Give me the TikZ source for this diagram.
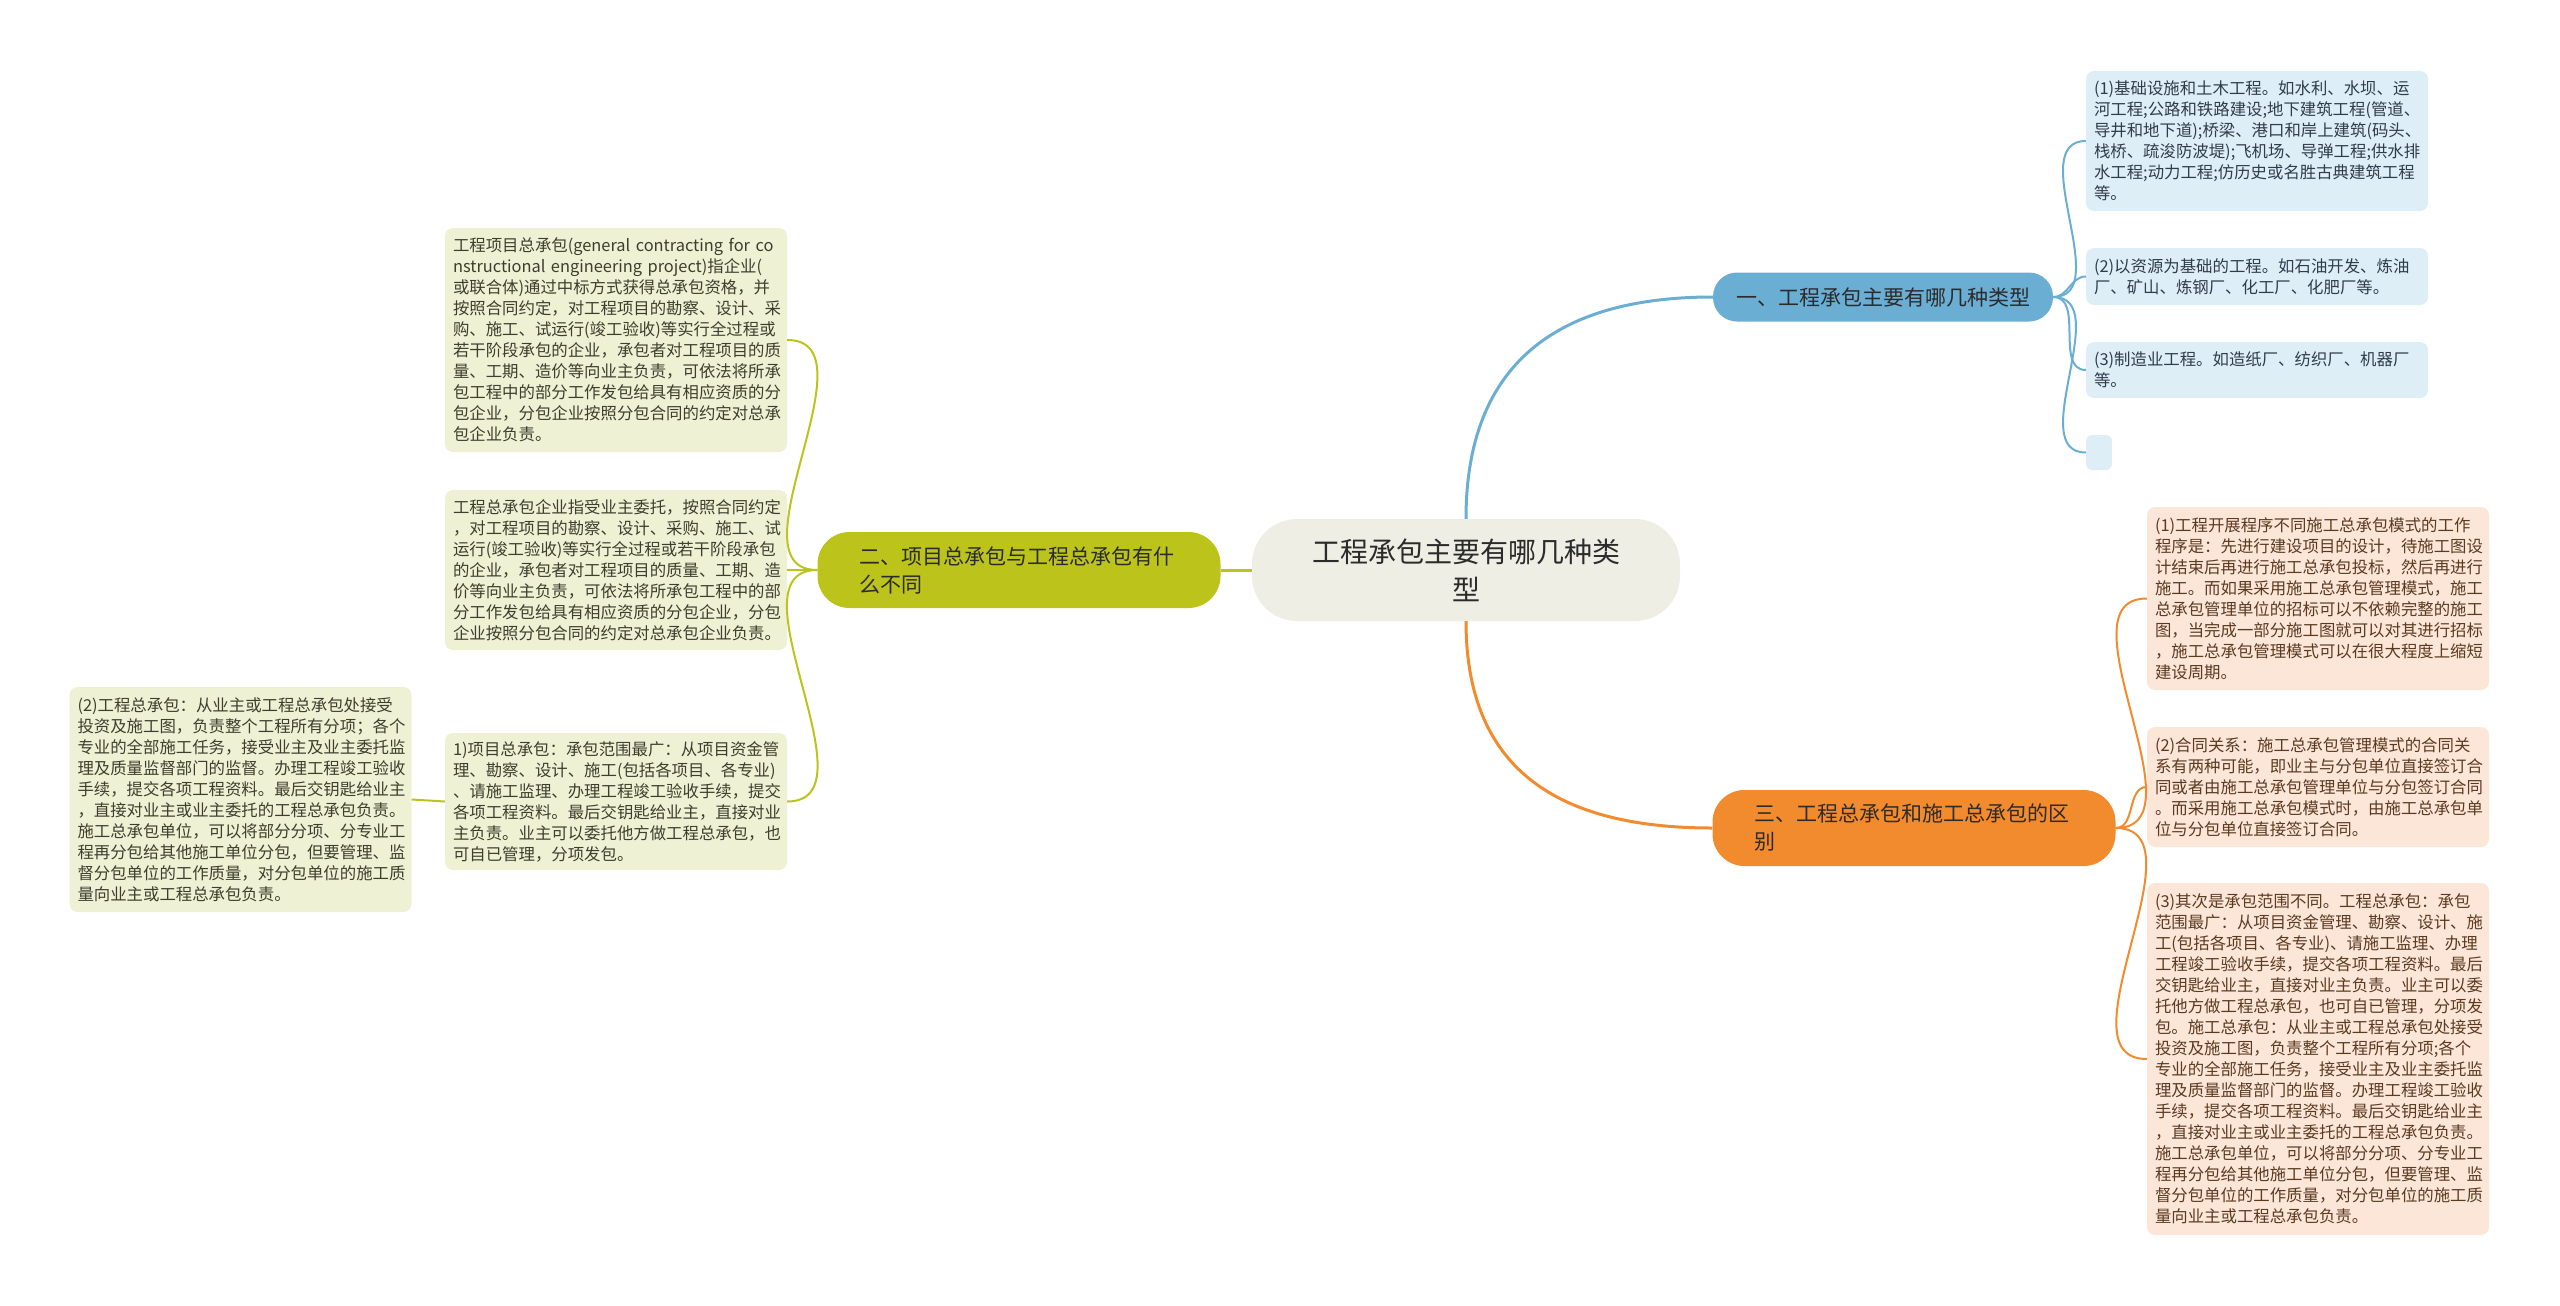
\documentclass[tikz,border=0pt]{standalone}
\usepackage{fontspec}
\setmainfont{Noto Sans CJK SC}

\definecolor{rootfill}{HTML}{EEEEE5}
\definecolor{bluemain}{HTML}{6BAED3}
\definecolor{blueleaf}{HTML}{DEEEF7}
\definecolor{bluetext}{HTML}{2F3D4A}
\definecolor{olivemain}{HTML}{BCC41C}
\definecolor{oliveleaf}{HTML}{EFF1D4}
\definecolor{olivetext}{HTML}{3E3E2E}
\definecolor{orangemain}{HTML}{F28B2E}
\definecolor{orangeleaf}{HTML}{FCE6D8}
\definecolor{orangetext}{HTML}{5A3B22}
\definecolor{darktext}{HTML}{2B2B2B}

\begin{document}
\begin{tikzpicture}[x=1pt, y=-1pt,
    main/.style = {fill=rootfill, rounded corners=45pt, minimum width=428pt, minimum height=102pt, align=center, text=darktext, font=\fontsize{28}{38}\selectfont},
    sub/.style = {text=darktext, font=\fontsize{21}{28}\selectfont},
    leaf/.style = {rounded corners=8pt, text width=326pt, inner xsep=8pt, align=left, font=\fontsize{16.4}{21}\selectfont},
    bleaf/.style = {leaf, fill=blueleaf, text=bluetext},
    gleaf/.style = {leaf, fill=oliveleaf, text=olivetext},
    oleaf/.style = {leaf, fill=orangeleaf, text=orangetext}]
    \useasboundingbox (0,0) rectangle (2560,1306);

    \node[main] (1) at (1466,570) {工程承包主要有哪几种类\\型};
    \node[sub, fill=bluemain, rounded corners=24pt, minimum width=340pt, minimum height=49pt] (2) at (1883,297) {一、工程承包主要有哪几种类型};
    \node[sub, fill=olivemain, rounded corners=32pt, minimum width=403pt, minimum height=76pt, text width=320pt, align=left] (3) at (1019,570) {二、项目总承包与工程总承包有什\\么不同};
    \node[sub, fill=orangemain, rounded corners=32pt, minimum width=403pt, minimum height=76pt, text width=320pt, align=left] (4) at (1914,828) {三、工程总承包和施工总承包的区\\别};

    % blue leaves
    \node[bleaf, minimum height=140pt] (5) at (2257,141) {(1)基础设施和土木工程。如水利、水坝、运\\
        河工程;公路和铁路建设;地下建筑工程(管道、\\
        导井和地下道);桥梁、港口和岸上建筑(码头、\\
        栈桥、疏浚防波堤);飞机场、导弹工程;供水排\\
        水工程;动力工程;仿历史或名胜古典建筑工程\\
        等。};
    \node[bleaf, minimum height=57pt] (6) at (2257,276.5) {(2)以资源为基础的工程。如石油开发、炼油\\
        厂、矿山、炼钢厂、化工厂、化肥厂等。};
    \node[bleaf, minimum height=56pt] (7) at (2257,370) {(3)制造业工程。如造纸厂、纺织厂、机器厂\\
        等。};
    \node[fill=blueleaf, rounded corners=6pt, inner sep=0pt, minimum width=26pt, minimum height=35pt] (8) at (2099,452.5) {};

    % olive leaves
    \node[gleaf, minimum height=224pt] (9) at (616,340) {工程项目总承包(general~contracting~for~co\\
        nstructional~engineering~project)指企业(\\
        或联合体)通过中标方式获得总承包资格，并\\
        按照合同约定，对工程项目的勘察、设计、采\\
        购、施工、试运行(竣工验收)等实行全过程或\\
        若干阶段承包的企业，承包者对工程项目的质\\
        量、工期、造价等向业主负责，可依法将所承\\
        包工程中的部分工作发包给具有相应资质的分\\
        包企业，分包企业按照分包合同的约定对总承\\
        包企业负责。};
    \node[gleaf, minimum height=160pt] (10) at (616,570) {工程总承包企业指受业主委托，按照合同约定\\
        ，对工程项目的勘察、设计、采购、施工、试\\
        运行(竣工验收)等实行全过程或若干阶段承包\\
        的企业，承包者对工程项目的质量、工期、造\\
        价等向业主负责，可依法将所承包工程中的部\\
        分工作发包给具有相应资质的分包企业，分包\\
        企业按照分包合同的约定对总承包企业负责。};
    \node[gleaf, minimum height=137pt] (11) at (616,801.5) {1)项目总承包：承包范围最广：从项目资金管\\
        理、勘察、设计、施工(包括各项目、各专业)\\
        、请施工监理、办理工程竣工验收手续，提交\\
        各项工程资料。最后交钥匙给业主，直接对业\\
        主负责。业主可以委托他方做工程总承包，也\\
        可自已管理，分项发包。};
    \node[gleaf, minimum height=225pt] (12) at (240.5,799.5) {(2)工程总承包：从业主或工程总承包处接受\\
        投资及施工图，负责整个工程所有分项；各个\\
        专业的全部施工任务，接受业主及业主委托监\\
        理及质量监督部门的监督。办理工程竣工验收\\
        手续，提交各项工程资料。最后交钥匙给业主\\
        ，直接对业主或业主委托的工程总承包负责。\\
        施工总承包单位，可以将部分分项、分专业工\\
        程再分包给其他施工单位分包，但要管理、监\\
        督分包单位的工作质量，对分包单位的施工质\\
        量向业主或工程总承包负责。};

    % orange leaves
    \node[oleaf, minimum height=183pt] (13) at (2318,598.5) {(1)工程开展程序不同施工总承包模式的工作\\
        程序是：先进行建设项目的设计，待施工图设\\
        计结束后再进行施工总承包投标，然后再进行\\
        施工。而如果采用施工总承包管理模式，施工\\
        总承包管理单位的招标可以不依赖完整的施工\\
        图，当完成一部分施工图就可以对其进行招标\\
        ，施工总承包管理模式可以在很大程度上缩短\\
        建设周期。};
    \node[oleaf, minimum height=120pt] (14) at (2318,787) {(2)合同关系：施工总承包管理模式的合同关\\
        系有两种可能，即业主与分包单位直接签订合\\
        同或者由施工总承包管理单位与分包签订合同\\
        。而采用施工总承包模式时，由施工总承包单\\
        位与分包单位直接签订合同。};
    \node[oleaf, minimum height=352pt] (15) at (2318,1059) {(3)其次是承包范围不同。工程总承包：承包\\
        范围最广：从项目资金管理、勘察、设计、施\\
        工(包括各项目、各专业)、请施工监理、办理\\
        工程竣工验收手续，提交各项工程资料。最后\\
        交钥匙给业主，直接对业主负责。业主可以委\\
        托他方做工程总承包，也可自已管理，分项发\\
        包。施工总承包：从业主或工程总承包处接受\\
        投资及施工图，负责整个工程所有分项;各个\\
        专业的全部施工任务，接受业主及业主委托监\\
        理及质量监督部门的监督。办理工程竣工验收\\
        手续，提交各项工程资料。最后交钥匙给业主\\
        ，直接对业主或业主委托的工程总承包负责。\\
        施工总承包单位，可以将部分分项、分专业工\\
        程再分包给其他施工单位分包，但要管理、监\\
        督分包单位的工作质量，对分包单位的施工质\\
        量向业主或工程总承包负责。};

    % connectors
    \draw[bluemain, line width=3pt] (1.north) to[out=90, in=180, looseness=1.2] (2.west);
    \draw[olivemain, line width=3pt] (1.west) -- (3.east);
    \draw[orangemain, line width=3pt] (1.south) to[out=-90, in=180, looseness=1.2] (4.west);

    \draw[bluemain, line width=2pt] (2.east) to[out=0, in=180] (5.west);
    \draw[bluemain, line width=2pt] (2.east) to[out=0, in=180] (6.west);
    \draw[bluemain, line width=2pt] (2.east) to[out=0, in=180] (7.west);
    \draw[bluemain, line width=2pt] (2.east) to[out=0, in=180] (8.west);

    \draw[olivemain, line width=2pt] (3.west) to[out=180, in=0] (9.east);
    \draw[olivemain, line width=2pt] (3.west) to[out=180, in=0] (10.east);
    \draw[olivemain, line width=2pt] (3.west) to[out=180, in=0] (11.east);
    \draw[olivemain, line width=2pt] (11.west) -- (12.east);

    \draw[orangemain, line width=2pt] (4.east) to[out=0, in=180] (13.west);
    \draw[orangemain, line width=2pt] (4.east) to[out=0, in=180] (14.west);
    \draw[orangemain, line width=2pt] (4.east) to[out=0, in=180] (15.west);
\end{tikzpicture}
\end{document}
